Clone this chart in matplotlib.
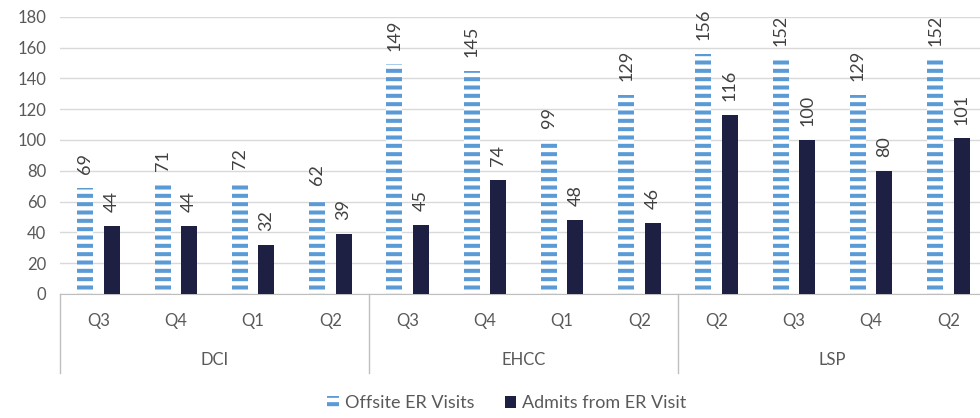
import numpy as np
import matplotlib
matplotlib.use('Agg')
import matplotlib.pyplot as plt
from matplotlib.patches import Patch
import matplotlib.transforms as mtransforms

plt.rcParams['font.family'] = ['Lato', 'DejaVu Sans']
plt.rcParams['hatch.linewidth'] = 2.9

groups = ['DCI', 'EHCC', 'LSP']
quarters = ['Q3', 'Q4', 'Q1', 'Q2',
            'Q3', 'Q4', 'Q1', 'Q2',
            'Q2', 'Q3', 'Q4', 'Q2']
offsite = [69, 71, 72, 62, 149, 145, 99, 129, 156, 152, 129, 152]
admits = [44, 44, 32, 39, 45, 74, 48, 46, 116, 100, 80, 101]

blue = '#5b9bd5'
navy = '#1e2043'
txt = '#595959'

fig = plt.figure(figsize=(9.8, 4.18), dpi=100)
# plot area runs slightly past the right edge, as in the original crop
ax = fig.add_axes([60/980, 1-294/418, 927/980, (294-16.7)/418])

x = np.arange(len(quarters))
w = 0.207
off = 0.172
b1 = ax.bar(x - off, offsite, w, facecolor='white', edgecolor=blue, hatch='--', linewidth=0, zorder=3)
b2 = ax.bar(x + off, admits, w, color=navy, linewidth=0, zorder=3)

for bars, vals in ((b1, offsite), (b2, admits)):
    for r, v in zip(bars, vals):
        ax.annotate(str(v), (r.get_x() + r.get_width()/2, r.get_height()),
                    xytext=(0, 10), textcoords='offset points',
                    rotation=90, ha='center', va='bottom', fontsize=13, color='#404040')

ax.set_ylim(0, 180)
ax.set_xlim(-0.5, len(quarters) - 0.5)
ax.set_yticks(range(0, 181, 20))
ax.grid(axis='y', color='#d9d9d9', linewidth=1, zorder=0)
ax.set_axisbelow(True)
for s in ['top', 'right', 'left']:
    ax.spines[s].set_visible(False)
ax.spines['bottom'].set_color('#bfbfbf')
ax.tick_params(axis='y', length=0, labelsize=12, labelcolor=txt, pad=10)
ax.set_xticks(x)
ax.set_xticklabels(quarters)
ax.tick_params(axis='x', length=0, labelsize=12, labelcolor=txt, pad=14)

# group labels and dividers below the axis
tr = mtransforms.blended_transform_factory(ax.transData, ax.transAxes)
for i, g in enumerate(groups):
    ax.text(i*4 + 1.5, -0.237, g, transform=tr, ha='center', va='center',
            fontsize=12, color=txt)
for b in range(len(groups) + 1):
    ax.plot([b*4 - 0.5, b*4 - 0.5], [0, -0.285], transform=tr, color='#bfbfbf',
            linewidth=1, clip_on=False)

handles = [Patch(facecolor='white', edgecolor=blue, hatch='--', linewidth=0),
           Patch(facecolor=navy)]
fig.legend(handles, ['Offsite ER Visits', 'Admits from ER Visit'],
           loc='center', bbox_to_anchor=(507/980, 1-403/418), ncol=2, frameon=False,
           fontsize=13, labelcolor=txt, handlelength=0.65, handleheight=0.65,
           handletextpad=0.33, columnspacing=1.67)

fig.savefig('out.png', dpi=100)
